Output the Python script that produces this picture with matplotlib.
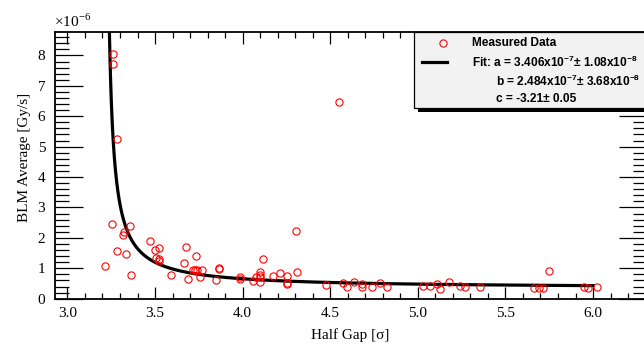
import numpy as np
import matplotlib.pyplot as plt
from matplotlib.patches import Rectangle
from matplotlib.lines import Line2D
from matplotlib.ticker import MultipleLocator, FuncFormatter

plt.rcParams['font.family'] = ['Liberation Serif', 'DejaVu Serif']
plt.rcParams['mathtext.fontset'] = 'custom'
plt.rcParams['mathtext.rm'] = 'Liberation Serif'
plt.rcParams['mathtext.bf'] = 'Liberation Sans:bold'

# measured data (half gap in sigma, BLM average in Gy/s)
half_gap = [3.259, 3.259, 3.281, 3.255, 3.356, 3.316, 3.323, 3.473, 3.285, 3.335,
            3.213, 3.363, 3.502, 3.523, 3.506, 3.520, 3.525, 3.593, 3.677, 3.734,
            3.664, 3.687, 3.717, 3.730, 3.740, 3.767, 3.757, 3.850, 3.867, 3.867,
            3.985, 3.985, 4.058, 4.077, 4.099, 4.099, 4.099, 4.099, 4.118, 4.172,
            4.212, 4.252, 4.252, 4.255, 4.305, 4.311, 4.474, 4.575, 4.594, 4.633,
            4.680, 4.681, 4.740, 4.786, 4.825, 5.031, 5.069, 5.108, 5.127, 5.177,
            5.238, 5.272, 5.357, 5.664, 5.691, 5.715, 5.748, 5.946, 5.970, 6.025,
            4.55]
blm_avg = [8.04, 7.71, 5.24, 2.46, 2.39, 2.08, 2.19, 1.89, 1.56, 1.48,
           1.07, 0.78, 1.60, 1.67, 1.35, 1.31, 1.25, 0.78, 1.71, 1.41,
           1.17, 0.64, 0.94, 0.95, 0.94, 0.94, 0.72, 0.61, 1.02, 0.99,
           0.72, 0.65, 0.58, 0.70, 0.89, 0.78, 0.70, 0.56, 1.31, 0.76,
           0.83, 0.75, 0.51, 0.47, 2.23, 0.89, 0.44, 0.53, 0.37, 0.55,
           0.47, 0.37, 0.40, 0.50, 0.37, 0.42, 0.43, 0.48, 0.33, 0.54,
           0.42, 0.37, 0.37, 0.35, 0.36, 0.35, 0.91, 0.37, 0.35, 0.40,
           6.47]
blm_avg = [v * 1e-6 for v in blm_avg]

# fit f(x) = a + b / (x + c)
fit_a = 3.406e-7
fit_b = 2.484e-7
fit_c = -3.21

W, H = 644, 345
fig = plt.figure(figsize=(W / 100, H / 100), dpi=100)
ax = fig.add_axes([55 / W, 1 - 298.7 / H, 592 / W, 267 / H])

xf = -fit_c + np.geomspace(0.02, 6.0 + fit_c, 400)
ax.plot(xf, fit_a + fit_b / (xf + fit_c), color='black', lw=2.3, zorder=2)
ax.plot(half_gap, blm_avg, 'o', mfc='none', mec='red', ms=5.2, mew=0.8, zorder=3)

ax.set_xlim(2.929, 6.308)
ax.set_ylim(0, 8.78e-6)
ax.xaxis.set_major_locator(MultipleLocator(0.5))
ax.xaxis.set_minor_locator(MultipleLocator(0.1))
ax.yaxis.set_major_locator(MultipleLocator(1e-6))
ax.yaxis.set_minor_locator(MultipleLocator(0.2e-6))
ax.xaxis.set_major_formatter(FuncFormatter(lambda v, p: '%.1f' % v))
ax.yaxis.set_major_formatter(FuncFormatter(lambda v, p: '%d' % round(v * 1e6)))
ax.tick_params(axis='both', which='both', direction='in', top=True, right=True,
               labelsize=11, width=0.9, color='black')
ax.tick_params(axis='x', which='major', length=8.6, pad=6)
ax.tick_params(axis='x', which='minor', length=4.3)
ax.tick_params(axis='y', which='major', length=20.2, pad=7)
ax.tick_params(axis='y', which='minor', length=10.1)
for s in ax.spines.values():
    s.set_linewidth(1.3)

fig.text(350 / W, 1 - 335 / H, 'Half Gap [σ]', fontsize=11, ha='center', va='center')
fig.text(25 / W, 1 - 157 / H, 'BLM Average [Gy/s]', fontsize=11, rotation=90,
         ha='center', va='center')
fig.text(54 / W, 1 - 21 / H, '×10$^{-6}$', fontsize=11, ha='left', va='center')

# legend box with shadow
bx, by_top, by_bot = 414, 32, 108
fig.patches.append(Rectangle(((bx + 4) / W, 1 - (by_bot + 4) / H), 250 / W,
                             (by_bot - by_top) / H, transform=fig.transFigure,
                             facecolor='black', edgecolor='none', zorder=5))
fig.patches.append(Rectangle((bx / W, 1 - by_bot / H), 250 / W,
                             (by_bot - by_top) / H, transform=fig.transFigure,
                             facecolor='#f2f2f2', edgecolor='black', lw=0.9, zorder=6))
fig.lines.append(Line2D([443 / W], [1 - 43 / H], marker='o', mfc='none', mec='red',
                        ms=5.2, mew=0.8, transform=fig.transFigure, zorder=7))
fig.lines.append(Line2D([422 / W, 447 / W], [1 - 62 / H, 1 - 62 / H], color='black',
                        lw=2.3, transform=fig.transFigure, zorder=7))
lk = dict(fontsize=8.6, fontweight='bold', family=['Liberation Sans', 'DejaVu Sans'],
          ha='left', va='center', zorder=8)
fig.text(472 / W, 1 - 43 / H, 'Measured Data', **lk)
fig.text(472 / W, 1 - 62 / H,
         r'Fit: a = 3.406x10$^{\mathbf{-7}}$± 1.08x10$^{\mathbf{-8}}$', **lk)
fig.text(496 / W, 1 - 81 / H,
         r'b = 2.484x10$^{\mathbf{-7}}$± 3.68x10$^{\mathbf{-8}}$', **lk)
fig.text(496 / W, 1 - 99 / H, 'c = -3.21± 0.05', **lk)

fig.savefig('out.png', dpi=100)
